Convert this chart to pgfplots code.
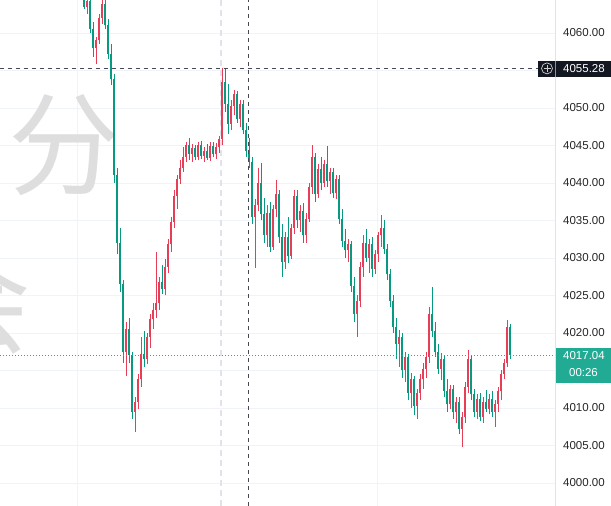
\documentclass[border=0pt]{standalone}
\usepackage{pgfplots}
\pgfplotsset{compat=1.18}
\usepackage{pgfplotstable}
\usepackage{fontspec}
\setmainfont{Liberation Sans}
\newfontfamily\cjk{Noto Sans CJK SC}
\definecolor{upcol}{RGB}{230,62,86}
\definecolor{dncol}{RGB}{8,153,129}
\definecolor{gridcol}{RGB}{240,243,250}
\definecolor{sepcol}{RGB}{224,227,235}
\definecolor{crosscol}{RGB}{70,73,84}
\definecolor{darkbox}{RGB}{19,23,34}
\definecolor{wm}{RGB}{222,222,222}
\definecolor{pricecol}{RGB}{34,171,148}

% prices; plotted relative to 4000
\pgfplotstableread{
x o h l c
84 4064.5 4066.0 4063.2 4063.5
87 4063.5 4065.0 4062.5 4064.2
90 4064.2 4064.8 4060.0 4060.5
93 4060.5 4061.5 4056.8 4058.0
96 4058.0 4059.5 4055.8 4059.0
99 4059.0 4062.5 4058.5 4062.0
102 4062.0 4065.0 4061.2 4063.8
105 4063.8 4065.5 4060.5 4061.0
108 4061.0 4061.8 4056.5 4057.2
111 4057.2 4058.5 4053.0 4053.8
114 4053.8 4054.5 4040.0 4041.0
117 4041.0 4042.0 4030.5 4032.0
120 4032.0 4034.0 4025.5 4026.5
123 4026.5 4027.0 4016.0 4017.5
126 4017.5 4021.5 4014.2 4020.5
129 4020.5 4022.0 4016.0 4017.0
132 4017.0 4017.5 4008.5 4009.5
135 4009.5 4011.5 4006.8 4010.8
138 4010.8 4014.5 4009.8 4013.8
141 4013.8 4019.5 4012.8 4017.2
144 4017.2 4020.2 4015.5 4016.5
147 4016.5 4020.0 4015.8 4019.5
150 4019.5 4022.5 4018.0 4021.8
153 4021.8 4024.0 4020.5 4023.0
156 4023.0 4030.8 4022.0 4024.0
159 4024.0 4027.5 4023.0 4026.8
162 4026.8 4029.0 4025.2 4025.8
165 4025.8 4029.8 4025.0 4028.8
168 4028.8 4032.5 4028.0 4031.8
171 4031.8 4035.5 4030.8 4034.8
174 4034.8 4039.0 4034.0 4038.2
177 4038.2 4041.0 4036.5 4040.5
180 4040.5 4043.0 4039.8 4042.0
183 4042.0 4044.8 4041.5 4043.5
186 4043.5 4045.5 4042.8 4045.0
189 4045.0 4046.0 4043.0 4043.8
192 4043.8 4045.2 4042.8 4044.6
195 4044.6 4045.0 4043.0 4043.4
198 4043.4 4045.5 4043.0 4045.0
201 4045.0 4045.6 4043.2 4043.6
204 4043.6 4044.8 4042.8 4044.2
207 4044.2 4045.2 4043.0 4043.3
210 4043.3 4045.4 4042.9 4044.9
213 4044.9 4045.5 4043.4 4043.8
216 4043.8 4045.3 4043.2 4044.8
219 4044.8 4046.2 4044.0 4045.8
222 4045.8 4055.28 4045.0 4053.5
225 4053.5 4055.28 4049.5 4050.5
228 4050.5 4053.2 4046.5 4047.8
231 4047.8 4051.0 4047.0 4050.2
234 4050.2 4052.4 4049.0 4051.8
237 4051.8 4052.2 4048.0 4048.5
240 4048.5 4051.0 4047.5 4050.5
243 4050.5 4051.0 4046.5 4047.0
246 4047.0 4048.0 4043.5 4044.2
249 4044.2 4046.0 4042.0 4042.8
252 4042.8 4043.5 4034.5 4035.5
255 4035.5 4037.8 4028.7 4037.0
258 4037.0 4042.0 4036.2 4040.0
261 4040.0 4042.7 4035.0 4035.8
264 4035.8 4038.0 4032.0 4033.0
267 4033.0 4037.0 4031.5 4036.0
270 4036.0 4037.5 4030.8 4031.5
273 4031.5 4037.0 4031.0 4036.5
276 4036.5 4040.4 4035.5 4038.5
279 4038.5 4039.0 4032.0 4032.8
282 4032.8 4034.5 4027.5 4029.5
285 4029.5 4033.5 4028.5 4032.8
288 4032.8 4035.5 4029.3 4030.2
291 4030.2 4034.5 4029.8 4034.0
294 4034.0 4039.0 4033.2 4038.2
297 4038.2 4039.0 4034.0 4035.0
300 4035.0 4037.0 4033.5 4036.2
303 4036.2 4037.3 4032.0 4033.0
306 4033.0 4036.0 4032.0 4035.2
309 4035.2 4040.0 4034.8 4039.5
312 4039.5 4045.0 4038.5 4043.5
315 4043.5 4044.0 4037.5 4038.5
318 4038.5 4042.5 4038.0 4041.8
321 4041.8 4043.5 4039.0 4040.0
324 4040.0 4043.0 4039.5 4042.5
327 4042.5 4044.9 4039.5 4040.2
330 4040.2 4042.0 4038.5 4041.5
333 4041.5 4042.0 4038.0 4038.6
336 4038.6 4041.0 4037.8 4040.5
339 4040.5 4041.0 4034.5 4035.2
342 4035.2 4036.5 4031.5 4032.2
345 4032.2 4033.8 4030.0 4031.0
348 4031.0 4032.5 4029.5 4031.8
351 4031.8 4032.2 4025.5 4026.2
354 4026.2 4027.5 4021.5 4022.5
357 4022.5 4025.0 4019.5 4024.2
360 4024.2 4029.5 4023.5 4028.8
363 4028.8 4033.0 4027.5 4032.0
366 4032.0 4033.8 4029.5 4030.0
369 4030.0 4032.5 4028.0 4031.8
372 4031.8 4032.8 4027.5 4028.5
375 4028.5 4031.0 4027.8 4030.5
378 4030.5 4033.5 4029.5 4033.0
381 4033.0 4035.7 4031.5 4034.0
384 4034.0 4035.0 4030.5 4031.2
387 4031.2 4031.8 4027.0 4027.8
390 4027.8 4028.5 4023.5 4024.2
393 4024.2 4025.0 4020.0 4020.8
396 4020.8 4022.0 4016.5 4018.5
399 4018.5 4020.4 4015.5 4019.5
402 4019.5 4020.0 4014.0 4015.0
405 4015.0 4017.5 4013.5 4016.8
408 4016.8 4017.2 4011.0 4012.0
411 4012.0 4014.7 4010.0 4013.8
414 4013.8 4014.2 4009.0 4010.2
417 4010.2 4012.5 4008.5 4012.0
420 4012.0 4014.5 4011.0 4013.8
423 4013.8 4016.0 4012.5 4015.2
426 4015.2 4017.5 4014.0 4016.8
429 4016.8 4023.5 4016.0 4022.5
432 4022.5 4026.1 4019.5 4020.2
435 4020.2 4021.5 4016.8 4017.5
438 4017.5 4018.5 4014.5 4015.2
441 4015.2 4017.3 4013.7 4016.5
444 4016.5 4017.0 4011.5 4012.2
447 4012.2 4013.8 4009.5 4010.5
450 4010.5 4013.0 4009.8 4012.5
453 4012.5 4013.0 4008.5 4009.5
456 4009.5 4011.5 4008.0 4010.8
459 4010.8 4011.5 4006.5 4007.2
462 4007.2 4009.5 4004.8 4008.8
465 4008.8 4013.5 4008.0 4012.8
468 4012.8 4017.7 4012.0 4016.5
471 4016.5 4017.0 4011.0 4011.8
474 4011.8 4012.5 4008.8 4009.5
477 4009.5 4011.8 4008.5 4011.2
480 4011.2 4012.0 4008.2 4008.8
483 4008.8 4011.5 4008.0 4010.8
486 4010.8 4012.4 4009.5 4009.9
489 4009.9 4011.8 4009.2 4011.2
492 4011.2 4012.2 4008.8 4009.5
495 4009.5 4011.0 4007.5 4010.5
498 4010.5 4012.8 4009.5 4012.2
501 4012.2 4015.0 4011.0 4014.5
504 4014.5 4016.5 4013.8 4016.0
507 4016.0 4021.7 4015.5 4020.8
510 4020.8 4021.2 4016.5 4017.04
}\candles

\pgfplotsset{candle/.style={only marks, mark size=0pt, mark options={draw opacity=0, fill opacity=0}, forget plot}}

\begin{document}
\begin{tikzpicture}
\begin{axis}[
  scale only axis, width=555pt, height=506pt,
  at={(0,0)}, anchor=south west,
  xmin=0, xmax=555, ymin=-3.067, ymax=64.4,
  clip mode=individual,
  axis line style={draw=none},
  major tick length=0pt,
  xtick={77,377}, xticklabels={},
  ytick={0,5,...,60},
  yticklabels={4000.00,4005.00,4010.00,,4020.00,4025.00,4030.00,4035.00,4040.00,4045.00,4050.00,,4060.00},
  grid=major, grid style={color=gridcol, line width=0.9pt},
  yticklabel pos=right,
  yticklabel style={anchor=west, inner sep=0pt, xshift=8pt, font=\fontsize{11.5}{12}\selectfont, text=black!85},
]
% watermark
\node[text=wm, font=\cjk\fontsize{112}{112}\selectfont] at (axis cs:65,45.0) {分};
\node[text=wm, font=\cjk\fontsize{112}{112}\selectfont] at (axis cs:-24,24.0) {会};
% session break and separator
\draw[sepcol, line width=1.3pt, dash pattern=on 6pt off 4pt] (axis cs:221,-3.067) -- (axis cs:221,64.4);
\draw[sepcol, line width=0.9pt] (axis cs:555,-3.067) -- (axis cs:555,64.4);
% wicks
\addplot[candle,
  restrict expr to domain={\thisrow{c}-\thisrow{o}}{0:1000},
  error bars/.cd, y dir=plus, y explicit, error mark=none,
  error bar style={draw=upcol, line width=0.9pt}]
  table[x=x, y expr=\thisrow{l}-4000, y error expr=\thisrow{h}-\thisrow{l}] {\candles};
\addplot[candle,
  restrict expr to domain={\thisrow{c}-\thisrow{o}}{-1000:-0.0001},
  error bars/.cd, y dir=plus, y explicit, error mark=none,
  error bar style={draw=dncol, line width=0.9pt}]
  table[x=x, y expr=\thisrow{l}-4000, y error expr=\thisrow{h}-\thisrow{l}] {\candles};
% bodies
\addplot[candle,
  restrict expr to domain={\thisrow{c}-\thisrow{o}}{0:1000},
  error bars/.cd, y dir=plus, y explicit, error mark=none,
  error bar style={draw=upcol, line width=2.5pt}]
  table[x=x, y expr=\thisrow{o}-4000, y error expr=\thisrow{c}-\thisrow{o}] {\candles};
\addplot[candle,
  restrict expr to domain={\thisrow{c}-\thisrow{o}}{-1000:-0.0001},
  error bars/.cd, y dir=plus, y explicit, error mark=none,
  error bar style={draw=dncol, line width=2.5pt}]
  table[x=x, y expr=\thisrow{c}-4000, y error expr=\thisrow{o}-\thisrow{c}] {\candles};
% current price line
\draw[pricecol, line width=1pt, dash pattern=on 1pt off 2pt] (axis cs:0,17.04) -- (axis cs:555,17.04);
% crosshair
\draw[crosscol, line width=1pt, dash pattern=on 4pt off 4pt] (axis cs:0,55.28) -- (axis cs:538,55.28);
\draw[crosscol, line width=1pt, dash pattern=on 4pt off 4pt] (axis cs:248,-3.067) -- (axis cs:248,64.4);
% crosshair label
\fill[darkbox] (axis cs:538,54.13) rectangle (axis cs:611,56.27);
\draw[white!80!black, line width=0.7pt] (axis cs:547,55.28) circle[radius=5.5pt];
\draw[white!80!black, line width=0.7pt] (axis cs:543.5,55.28) -- (axis cs:550.5,55.28);
\draw[white!80!black, line width=0.7pt] (axis cs:547,54.813) -- (axis cs:547,55.747);
\draw[sepcol!60!darkbox, line width=0.7pt] (axis cs:555.5,54.13) -- (axis cs:555.5,56.27);
\node[text=white, anchor=west, inner sep=0pt, font=\fontsize{11.5}{12}\selectfont] at (axis cs:563,55.28) {4055.28};
% current price label
\fill[pricecol] (axis cs:555.5,13.33) rectangle (axis cs:611,18.0);
\node[text=white, anchor=west, inner sep=0pt, font=\fontsize{11.5}{12}\selectfont] at (axis cs:563,17.04) {4017.04};
\node[text=white, anchor=center, inner sep=0pt, font=\fontsize{11.5}{12}\selectfont] at (axis cs:583.5,14.7) {00:26};
\end{axis}
\pgfresetboundingbox
\path[use as bounding box] (0,0) rectangle (611pt,506pt);
\end{tikzpicture}
\end{document}
